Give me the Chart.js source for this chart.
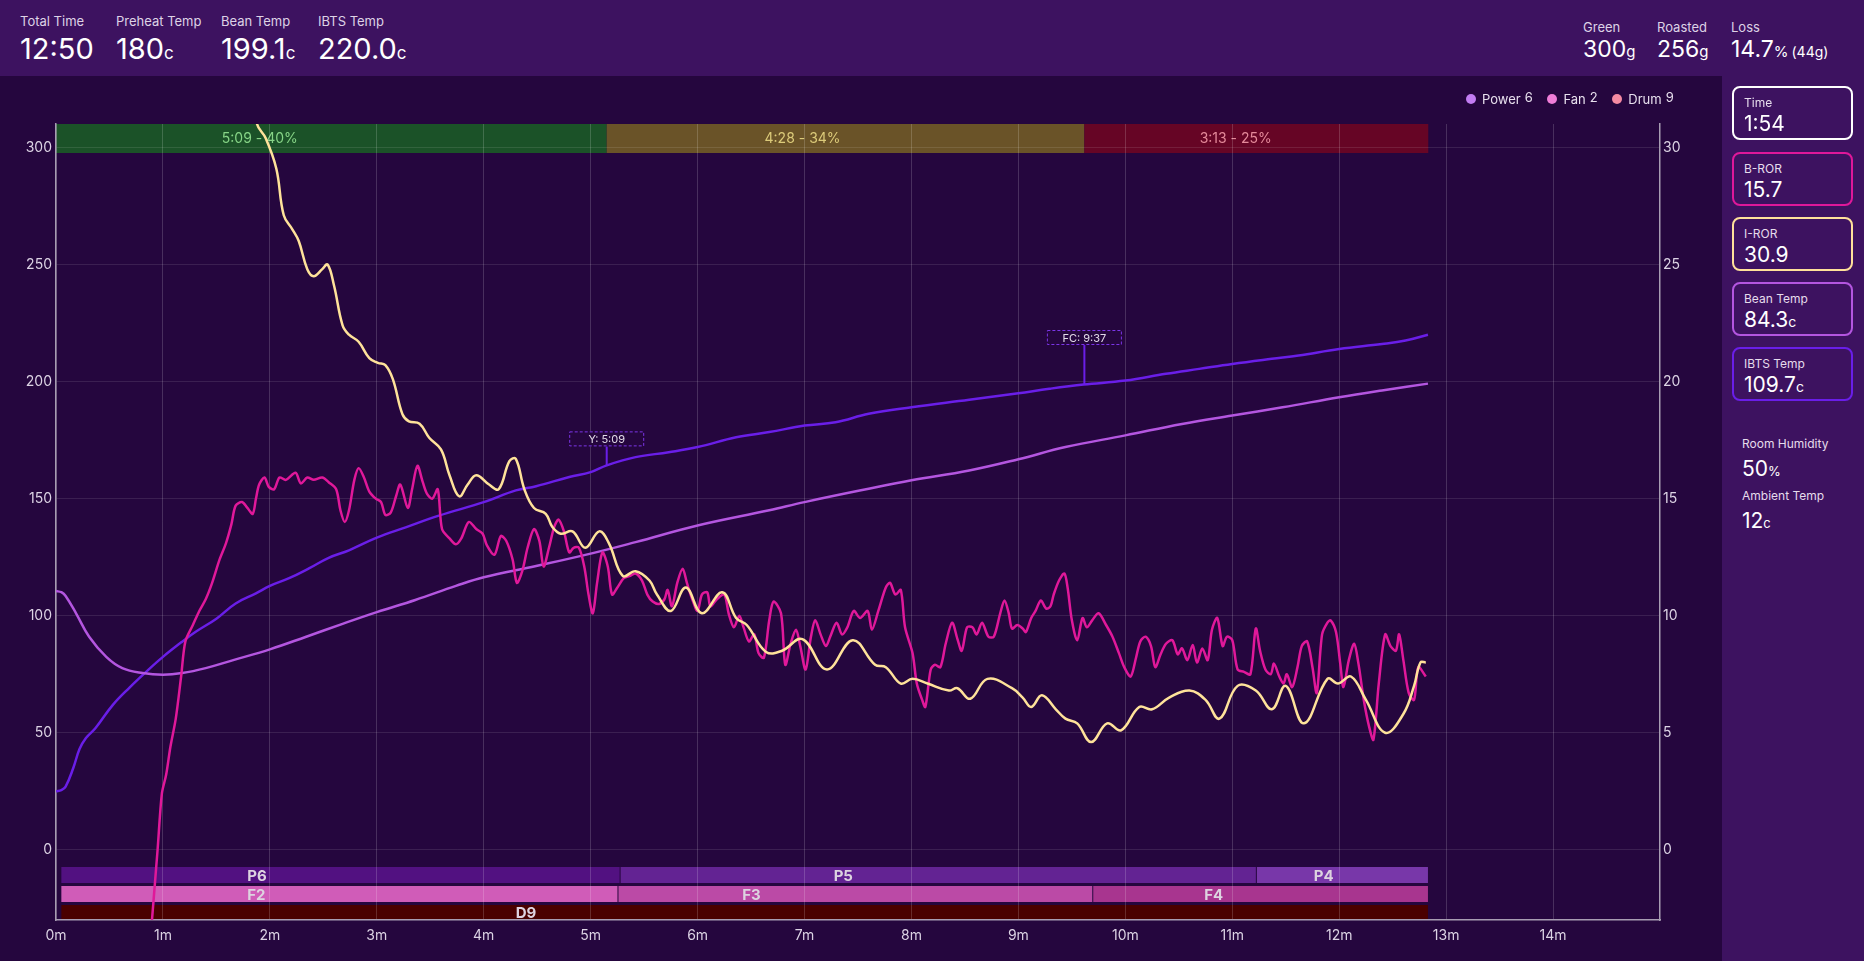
<!DOCTYPE html>
<html>
<head>
<meta charset="utf-8">
<title>Roast profile</title>
<script src="https://cdn.jsdelivr.net/npm/chart.js@4.4.1/dist/chart.umd.min.js"></script>
<style>
  html, body { margin: 0; padding: 0; }
  body {
    width: 1864px; height: 961px; overflow: hidden; position: relative;
    background: #25063e; color: #fff; font-family: Inter, "Noto Sans", sans-serif;
  }
  #header { position: absolute; left: 0; top: 0; width: 1864px; height: 76px; background: #3d1260; }
  .stat { position: absolute; top: 12px; }
  .stat .lbl { font-size: 13px; line-height: 18px; color: #ddd2e6; white-space: nowrap; }
  .stat .val { font-size: 29px; line-height: 34px; margin-top: 2px; white-space: nowrap; }
  .stat .val small { font-size: 17px; }
  .stat.right { top: 18px; }
  .stat.right .val { font-size: 23px; line-height: 26px; margin-top: 0; }
  .stat.right .val small { font-size: 15px; }
  .stat.right .val .extra { font-size: 14px; margin-left: 3px; }
  #chartWrap { position: absolute; left: 0; top: 76px; width: 1722px; height: 885px; }
  #legend { position: absolute; top: 15px; left: 1466px; font-size: 13px; color: #e8e0ee; white-space: nowrap; }
  #legend span.item { display: inline-flex; align-items: center; margin-right: 11px; }
  #legend i { display: inline-block; width: 10px; height: 10px; border-radius: 50%; margin-right: 6px; }
  #legend sup { font-size: 13px; margin-left: 4px; position: relative; top: -2px; }
  #sidebar { position: absolute; left: 1722px; top: 76px; width: 142px; height: 885px; background: #3d1260; }
  .card {
    position: absolute; left: 10px; width: 117px; height: 50px;
    border: 2px solid #fff; border-radius: 8px;
  }
  .card .lbl { position: absolute; left: 10px; top: 7px; font-size: 12px; color: #e6dcec; }
  .card .val { position: absolute; left: 10px; top: 23px; font-size: 21px; line-height: 26px; }
  .card .val small { font-size: 14px; }
  .env { position: absolute; left: 20px; }
  .env .lbl { font-size: 12px; color: #e6dcec; line-height: 16px; }
  .env .val { font-size: 21px; line-height: 26px; margin-top: 4px; }
  .env .val small { font-size: 13px; }
</style>
</head>
<body>
<div id="header">
  <div class="stat" style="left:20px"><div class="lbl">Total Time</div><div class="val">12:50</div></div>
  <div class="stat" style="left:116px"><div class="lbl">Preheat Temp</div><div class="val">180<small>c</small></div></div>
  <div class="stat" style="left:221px"><div class="lbl">Bean Temp</div><div class="val">199.1<small>c</small></div></div>
  <div class="stat" style="left:318px"><div class="lbl">IBTS Temp</div><div class="val">220.0<small>c</small></div></div>

  <div class="stat right" style="left:1583px"><div class="lbl">Green</div><div class="val">300<small>g</small></div></div>
  <div class="stat right" style="left:1657px"><div class="lbl">Roasted</div><div class="val">256<small>g</small></div></div>
  <div class="stat right" style="left:1731px"><div class="lbl">Loss</div><div class="val">14.7<small>%</small><span class="extra">(44g)</span></div></div>
</div>

<div id="chartWrap">
  <canvas id="roastChart"></canvas>
  <div id="legend">
    <span class="item"><i style="background:#c27cf2"></i>Power<sup>6</sup></span>
    <span class="item"><i style="background:#f07dd8"></i>Fan<sup>2</sup></span>
    <span class="item"><i style="background:#f58aa2"></i>Drum<sup>9</sup></span>
  </div>
</div>

<div id="sidebar">
  <div class="card" style="top:10px;border-color:#ffffff"><div class="lbl">Time</div><div class="val">1:54</div></div>
  <div class="card" style="top:76px;border-color:#e0189a"><div class="lbl">B-ROR</div><div class="val">15.7</div></div>
  <div class="card" style="top:141px;border-color:#ffe09a"><div class="lbl">I-ROR</div><div class="val">30.9</div></div>
  <div class="card" style="top:206px;border-color:#b456e0"><div class="lbl">Bean Temp</div><div class="val">84.3<small>c</small></div></div>
  <div class="card" style="top:271px;border-color:#6a1ee8"><div class="lbl">IBTS Temp</div><div class="val">109.7<small>c</small></div></div>
  <div class="env" style="top:360px"><div class="lbl">Room Humidity</div><div class="val">50<small>%</small></div></div>
  <div class="env" style="top:412px"><div class="lbl">Ambient Temp</div><div class="val">12<small>c</small></div></div>
</div>

<script>
// time axis is in minutes
const xTicks = [0, 1, 2, 3, 4, 5, 6, 7, 8, 9, 10, 11, 12, 13, 14];
const tempTicks = [0, 50, 100, 150, 200, 250, 300];
const rorTicks = [0, 5, 10, 15, 20, 25, 30];

// IBTS temperature
const ibtsTime = [0.00, 0.05, 0.09, 0.16, 0.22, 0.28, 0.37, 0.53, 0.69, 0.84, 1.00, 1.18, 1.31, 1.50, 1.68, 1.87,
  2.00, 2.18, 2.37, 2.55, 2.74, 3.00, 3.27, 3.58, 4.00, 4.30, 4.49, 4.80, 5.00, 5.15, 5.42, 5.73, 6.00, 6.36,
  6.67, 7.00, 7.29, 7.60, 8.00, 8.54, 9.00, 9.29, 9.61, 10.00, 10.38, 10.69, 11.00, 11.37, 11.62, 12.00, 12.40,
  12.62, 12.83];
const ibtsTemp = [25, 25.5, 27, 34.7, 43, 47.7, 52, 61.8, 69.4, 75.9, 82.4, 88.9, 93.2, 98.7, 105.2, 109.5,
  112.7, 116, 120.3, 124.7, 127.9, 133.3, 137.7, 142.7, 148.5, 153.5, 155.3, 159.2, 161.3, 164.2, 167.7, 169.8, 172, 176.2,
  178.4, 181.2, 182.6, 186.2, 189, 192.2, 195, 196.9, 198.7, 200.4, 203.3, 205.4, 207.5, 209.7, 211.1, 213.9, 216,
  217.5, 220];

// bean temperature
const beanTime = [0.00, 0.05, 0.09, 0.19, 0.31, 0.47, 0.62, 0.81, 1.00, 1.18, 1.40, 1.65, 2.00, 2.34, 2.68, 3.00,
  3.36, 3.74, 4.00, 4.49, 5.00, 5.42, 6.00, 6.67, 7.00, 7.60, 8.00, 8.54, 9.00, 9.44, 10.00, 10.53, 11.00, 11.47,
  12.00, 12.40, 12.83];
const beanTemp = [110.5, 110, 108.4, 100.8, 91, 82.4, 77.6, 75.5, 74.8, 75.5, 77.6, 80.9, 85.6, 91, 96.5, 101.5,
  106.7, 112.7, 116.4, 121.2, 126.5, 131.4, 138.5, 145, 148.5, 154.2, 157.8, 162, 166.8, 172, 177, 181.9, 185.5, 189,
  193.3, 196.2, 199.1];

// bean rate of rise
const bRorTime = [0.88, 0.95, 0.99, 1.03, 1.07, 1.12, 1.17, 1.21, 1.28, 1.34, 1.40, 1.46, 1.53, 1.59, 1.64, 1.68,
  1.74, 1.79, 1.84, 1.87, 1.90, 1.95, 1.99, 2.04, 2.09, 2.15, 2.24, 2.29, 2.35, 2.41, 2.49, 2.55, 2.62, 2.66, 2.70,
  2.74, 2.79, 2.83, 2.88, 2.93, 2.99, 3.04, 3.08, 3.13, 3.18, 3.22, 3.29, 3.33, 3.38, 3.43, 3.47, 3.52, 3.57, 3.61,
  3.68, 3.74, 3.79, 3.86, 3.93, 3.99, 4.03, 4.10, 4.16, 4.21, 4.27, 4.31, 4.36, 4.41, 4.47, 4.52, 4.56, 4.61, 4.66,
  4.70, 4.75, 4.80, 4.84, 4.89, 4.94, 4.98, 5.02, 5.06, 5.11, 5.16, 5.20, 5.25, 5.31, 5.37, 5.42, 5.48, 5.53, 5.58,
  5.64, 5.69, 5.72, 5.76, 5.81, 5.86, 5.90, 5.95, 6.00, 6.04, 6.09, 6.12, 6.18, 6.25, 6.29, 6.34, 6.39, 6.43, 6.48,
  6.53, 6.57, 6.62, 6.67, 6.71, 6.78, 6.82, 6.87, 6.92, 6.96, 7.01, 7.06, 7.10, 7.15, 7.20, 7.24, 7.30, 7.35, 7.40,
  7.46, 7.52, 7.59, 7.63, 7.69, 7.76, 7.80, 7.85, 7.90, 7.94, 8.01, 8.05, 8.10, 8.13, 8.18, 8.22, 8.27, 8.32, 8.38,
  8.43, 8.47, 8.52, 8.57, 8.61, 8.66, 8.72, 8.77, 8.83, 8.87, 8.91, 8.94, 8.99, 9.04, 9.07, 9.12, 9.16, 9.21, 9.26,
  9.30, 9.33, 9.38, 9.43, 9.46, 9.50, 9.55, 9.60, 9.64, 9.69, 9.75, 9.82, 9.88, 9.94, 9.99, 10.05, 10.10, 10.14,
  10.19, 10.24, 10.28, 10.33, 10.38, 10.44, 10.49, 10.53, 10.58, 10.63, 10.67, 10.72, 10.77, 10.81, 10.86, 10.91,
  10.95, 11.00, 11.05, 11.11, 11.17, 11.22, 11.26, 11.31, 11.36, 11.39, 11.44, 11.48, 11.51, 11.56, 11.61, 11.65,
  11.70, 11.75, 11.79, 11.84, 11.89, 11.92, 11.97, 12.01, 12.04, 12.09, 12.14, 12.18, 12.23, 12.28, 12.32, 12.37,
  12.43, 12.48, 12.53, 12.56, 12.60, 12.65, 12.70, 12.74, 12.81];
const bRorValue = [-4.0, 0, 2.4, 3.2, 4.4, 5.6, 7.4, 8.9, 9.6, 10.2, 10.7, 11.4, 12.4, 13.1, 13.9, 14.7,
  14.85, 14.6, 14.35, 15.0, 15.6, 15.9, 15.5, 15.4, 15.9, 15.8, 16.1, 15.65, 15.9, 15.8, 15.9, 15.7, 15.4, 14.5, 14.0,
  14.5, 15.8, 16.3, 15.9, 15.3, 15.0, 14.85, 14.3, 14.4, 15.1, 15.6, 14.6, 15.4, 16.4, 15.7, 15.2, 15.0, 15.4, 13.7,
  13.3, 13.05, 13.3, 14.0, 13.7, 13.5, 13.0, 12.6, 13.4, 13.2, 12.4, 11.4, 11.9, 12.9, 13.7, 13.2, 12.1, 12.9, 13.8,
  14.1, 13.6, 12.7, 12.9, 12.9, 12.1, 10.9, 10.1, 11.4, 12.7, 12.1, 10.9, 11.2, 11.6, 11.7, 11.8, 11.5, 10.9, 10.6,
  10.5, 10.7, 11.1, 10.4, 11.4, 12.0, 11.4, 10.7, 10.2, 10.9, 11.0, 10.4, 10.7, 10.9, 10.1, 9.5, 10.0, 9.5, 8.9,
  9.2, 8.4, 8.2, 9.8, 10.6, 10.1, 7.9, 8.8, 9.4, 8.7, 7.7, 9.1, 9.8, 9.2, 8.7, 9.1, 9.7, 9.2, 9.5,
  10.2, 9.9, 10.2, 9.4, 10.2, 11.2, 11.4, 10.9, 11.1, 9.5, 8.4, 7.1, 6.4, 6.1, 7.7, 7.9, 7.8, 8.8, 9.7,
  9.0, 8.5, 9.5, 9.5, 9.2, 9.7, 9.1, 9.1, 10.1, 10.65, 10.1, 9.45, 9.6, 9.45, 9.3, 9.9, 10.2, 10.65, 10.3,
  10.4, 10.9, 11.5, 11.8, 11.2, 9.8, 8.95, 9.9, 9.5, 9.8, 10.1, 9.6, 9.1, 8.4, 7.8, 7.4, 8.2, 8.9,
  9.1, 8.7, 7.8, 8.35, 8.8, 8.95, 8.35, 8.6, 8.1, 8.75, 8.0, 8.6, 8.1, 9.4, 9.9, 8.7,
  9.1, 8.95, 7.7, 7.6, 7.5, 9.45, 8.5, 7.7, 7.5, 7.95, 7.4, 7.1, 7.5, 6.95, 7.8, 8.7,
  8.9, 7.8, 6.7, 9.2, 9.7, 9.8, 9.3, 7.95, 6.95, 8.1, 8.8, 7.95, 6.4, 5.25, 4.7, 7.1,
  9.2, 8.7, 8.5, 9.2, 8.1, 6.7, 6.4, 7.8, 7.4];

// IBTS rate of rise
const iRorTime = [1.85, 1.88, 1.96, 2.06, 2.13, 2.21, 2.27, 2.35, 2.41, 2.49, 2.54, 2.60, 2.68, 2.74, 2.83, 2.93,
  3.01, 3.08, 3.15, 3.24, 3.30, 3.40, 3.49, 3.60, 3.68, 3.77, 3.85, 3.93, 4.05, 4.14, 4.24, 4.30, 4.38, 4.47, 4.58,
  4.64, 4.72, 4.83, 4.95, 5.08, 5.17, 5.30, 5.42, 5.55, 5.62, 5.75, 5.89, 6.04, 6.23, 6.36, 6.46, 6.64, 6.79, 6.98,
  7.21, 7.45, 7.66, 7.76, 7.90, 8.01, 8.15, 8.35, 8.43, 8.55, 8.71, 8.94, 9.04, 9.12, 9.22, 9.35, 9.44, 9.55, 9.68,
  9.83, 9.96, 10.13, 10.25, 10.41, 10.60, 10.75, 10.88, 11.05, 11.22, 11.37, 11.50, 11.67, 11.89, 11.99, 12.11,
  12.25, 12.43, 12.60, 12.70, 12.76, 12.81];
const iRorValue = [32.5, 31.0, 30.4, 29.1, 27.1, 26.5, 26.0, 24.8, 24.5, 24.8, 25.0, 24.1, 22.4, 22.0, 21.7, 21.0,
  20.8, 20.7, 20.1, 18.6, 18.3, 18.2, 17.6, 17.1, 16.0, 15.1, 15.6, 16.0, 15.6, 15.4, 16.6, 16.7, 15.4, 14.6, 14.35,
  13.8, 13.5, 13.6, 12.9, 13.6, 13.1, 11.7, 11.9, 11.5, 10.9, 10.2, 11.2, 10.1, 11.0, 9.9, 9.6, 8.45, 8.5, 9.0,
  7.7, 8.95, 7.9, 7.8, 7.1, 7.3, 7.1, 6.8, 6.9, 6.45, 7.3, 6.9, 6.5, 6.1, 6.6, 6.0, 5.6, 5.4, 4.6,
  5.4, 5.1, 6.1, 6.0, 6.5, 6.8, 6.4, 5.6, 7.0, 6.8, 6.0, 7.0, 5.4, 7.3, 7.1, 7.4,
  6.4, 5.0, 5.8, 7.0, 8.0, 8.0];

// roast phases (top strip)
const phaseLabels = ['5:09 - 40%', '4:28 - 34%', '3:13 - 25%'];
const phaseStart = [0, 5.15, 9.617];
const phaseEnd = [5.15, 9.617, 12.833];

// control settings (bottom strips)
const powerLabels = ['P6', 'P5', 'P4'];
const powerStart = [0.05, 5.28, 11.23];
const powerEnd = [5.28, 11.23, 12.83];
const fanLabels = ['F2', 'F3', 'F4'];
const fanStart = [0.05, 5.26, 9.70];
const fanEnd = [5.26, 9.70, 12.83];
const drumLabels = ['D9'];
const drumStart = [0.05];
const drumEnd = [12.83];

// event markers on the IBTS curve
const markerLabels = ['Y: 5:09', 'FC: 9:37'];
const markerTime = [5.15, 9.617];
const markerTemp = [164.2, 198.7];
const markerBoxTemp = [175.5, 218.8];

const toPoints = (xs, ys) => xs.map((t, i) => ({ x: t, y: ys[i] }));

const stripsPlugin = {
    id: 'strips',
    beforeDraw(chart) {
        const { ctx, chartArea, scales } = chart;
        const x = scales.x;
        ctx.save();

        // top phase bands
        const phaseColors = ['#1b5228', '#6a5328', '#660525'];
        const phaseText = ['#86d486', '#dccb7a', '#e48a9a'];
        const labelFrac = [0.37, 0.41, 0.44];
        ctx.font = '14px Inter';
        ctx.textAlign = 'center';
        ctx.textBaseline = 'middle';
        phaseLabels.forEach((label, i) => {
            const x0 = x.getPixelForValue(phaseStart[i]);
            const x1 = x.getPixelForValue(phaseEnd[i]);
            ctx.fillStyle = phaseColors[i];
            ctx.fillRect(x0, chartArea.top, x1 - x0, 29);
            ctx.fillStyle = phaseText[i];
            ctx.fillText(label, x0 + (x1 - x0) * labelFrac[i], chartArea.top + 15);
        });

        // bottom setting rows
        const drawRow = (starts, ends, labels, colors, fracs, top, h) => {
            labels.forEach((label, i) => {
                const x0 = x.getPixelForValue(starts[i]);
                const x1 = x.getPixelForValue(ends[i]);
                const gap = i < labels.length - 1 ? 1 : 0;
                ctx.fillStyle = colors[i];
                ctx.fillRect(x0, top, x1 - x0 - gap, h);
                ctx.fillStyle = '#ddd3e0';
                ctx.font = 'bold 15px Inter';
                ctx.fillText(label, x0 + (x1 - x0) * fracs[i], top + h / 2 + 1);
            });
        };
        const b = chartArea.bottom;
        drawRow(powerStart, powerEnd, powerLabels, ['#521181', '#632393', '#7837a9'], [0.35, 0.35, 0.39], b - 53, 16);
        drawRow(fanStart, fanEnd, fanLabels, ['#d05cb8', '#bb4aa6', '#a8358f'], [0.35, 0.28, 0.36], b - 34, 16);
        drawRow(drumStart, drumEnd, drumLabels, ['#4a0000'], [0.34], b - 15, 15);
        ctx.restore();
    },
    afterDatasetsDraw(chart) {
        const { ctx, scales } = chart;
        ctx.save();
        markerLabels.forEach((label, i) => {
            const px = scales.x.getPixelForValue(markerTime[i]);
            const py = scales.y.getPixelForValue(markerTemp[i]);
            const by = scales.y.getPixelForValue(markerBoxTemp[i]);
            const w = 75, h = 15;
            ctx.strokeStyle = '#6a1ee8';
            ctx.lineWidth = 2;
            ctx.setLineDash([]);
            ctx.beginPath();
            ctx.moveTo(px, py);
            ctx.lineTo(px, by + h / 2);
            ctx.stroke();
            ctx.fillStyle = '#25063e';
            ctx.fillRect(px - w / 2, by - h / 2, w, h);
            ctx.lineWidth = 1;
            ctx.setLineDash([3, 2]);
            ctx.strokeStyle = '#7b35e6';
            ctx.strokeRect(px - w / 2 + 0.5, by - h / 2 + 0.5, w - 1, h - 1);
            ctx.fillStyle = '#e2dae8';
            ctx.font = '11px Inter';
            ctx.textAlign = 'center';
            ctx.textBaseline = 'middle';
            ctx.fillText(label, px, by + 1);
        });
        ctx.restore();
    }
};

Chart.defaults.font.family = 'Inter';
Chart.defaults.color = '#dcd3e4';

const tickFont = { size: 14 };
const axisBorder = { color: '#a79cb2', width: 1.5 };

new Chart(document.getElementById('roastChart'), {
    type: 'line',
    data: {
        datasets: [
            {
                label: 'I-ROR',
                data: toPoints(iRorTime, iRorValue),
                yAxisID: 'y1',
                borderColor: '#ffe29a',
                borderWidth: 2.5,
                tension: 0.4,
                order: 1
            },
            {
                label: 'B-ROR',
                data: toPoints(bRorTime, bRorValue),
                yAxisID: 'y1',
                borderColor: '#e0189a',
                borderWidth: 2.5,
                tension: 0.3,
                order: 2
            },
            {
                label: 'Bean Temp',
                data: toPoints(beanTime, beanTemp),
                yAxisID: 'y',
                borderColor: '#b456e0',
                borderWidth: 2.5,
                tension: 0.4,
                order: 3
            },
            {
                label: 'IBTS Temp',
                data: toPoints(ibtsTime, ibtsTemp),
                yAxisID: 'y',
                borderColor: '#6a1ee8',
                borderWidth: 2.5,
                tension: 0.4,
                order: 4
            }
        ]
    },
    options: {
        responsive: true,
        maintainAspectRatio: false,
        animation: false,
        layout: { padding: { top: 48, left: 0, right: 0, bottom: 0 } },
        elements: { point: { radius: 0, hoverRadius: 0 } },
        plugins: {
            legend: { display: false },
            tooltip: { enabled: false }
        },
        scales: {
            x: {
                type: 'linear',
                min: 0,
                max: 15,
                afterBuildTicks: axis => { axis.ticks = xTicks.map(v => ({ value: v })); },
                afterFit: axis => { axis.height = 41; },
                ticks: { callback: v => v + 'm', font: tickFont, padding: 7, maxRotation: 0 },
                grid: { color: 'rgba(255,255,255,0.17)', drawTicks: false },
                border: axisBorder
            },
            y: {
                position: 'left',
                min: -30,
                max: 310,
                afterBuildTicks: axis => { axis.ticks = tempTicks.map(v => ({ value: v })); },
                afterFit: axis => { axis.width = 56; },
                ticks: { font: tickFont, padding: 4 },
                grid: { color: 'rgba(255,255,255,0.1)', drawTicks: false },
                border: axisBorder
            },
            y1: {
                position: 'right',
                min: -3,
                max: 31,
                afterBuildTicks: axis => { axis.ticks = rorTicks.map(v => ({ value: v })); },
                afterFit: axis => { axis.width = 62; },
                ticks: { font: tickFont, padding: 3 },
                grid: { drawOnChartArea: false, drawTicks: false },
                border: axisBorder
            }
        }
    },
    plugins: [stripsPlugin]
});
</script>
</body>
</html>
